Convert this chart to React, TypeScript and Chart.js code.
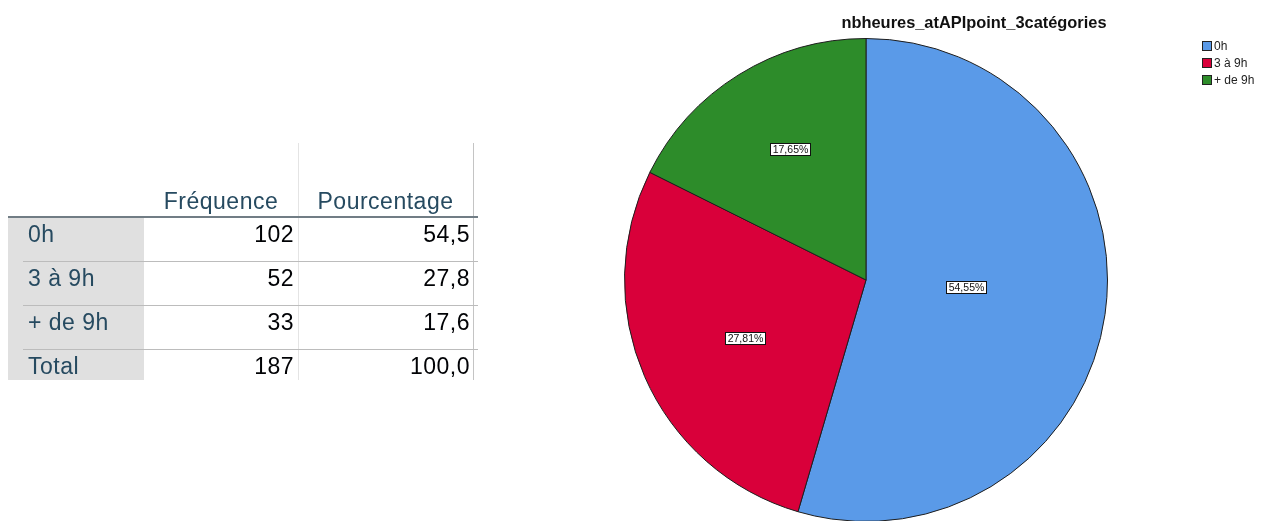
import React, { useEffect, useRef } from "react";
import { Chart, registerables } from "chart.js";

Chart.register(...registerables);

// ---- data ----
const categories = ["0h", "3 à 9h", "+ de 9h"];
const frequencies = [102, 52, 33];
const percentages = ["54,5", "27,8", "17,6"];
const totalLabel = "Total";
const totalFrequency = "187";
const totalPercentage = "100,0";
const tableHeaders = ["Fréquence", "Pourcentage"];
const chartTitle = "nbheures_atAPIpoint_3catégories";
const sliceColors = ["#5a9ae8", "#d9003a", "#2d8c2a"];

const FONT = '"Liberation Sans", Arial, Helvetica, sans-serif';
const LABEL_RADIUS_FRACTION = [0.419, 0.557, 0.624];
const LABEL_ANGLE_SHIFT_DEG = [-4.2, -2.4, 1.5];

const decorPlugin = {
  id: "spssDecor",
  afterDatasetsDraw(chart: any) {
    const ctx = chart.ctx as CanvasRenderingContext2D;
    const meta = chart.getDatasetMeta(0);
    const data = chart.data.datasets[0].data as number[];
    const total = data.reduce((a, b) => a + b, 0);
    ctx.save();
    // slice labels
    meta.data.forEach((arc: any, i: number) => {
      const p = arc.getProps(["x", "y", "startAngle", "endAngle", "outerRadius"], true);
      const mid = (p.startAngle + p.endAngle) / 2 + (LABEL_ANGLE_SHIFT_DEG[i] * Math.PI) / 180;
      const r = p.outerRadius * LABEL_RADIUS_FRACTION[i];
      const cx = p.x + Math.cos(mid) * r;
      const cy = p.y + Math.sin(mid) * r;
      const txt = ((data[i] / total) * 100).toFixed(2).replace(".", ",") + "%";
      ctx.font = `10.5px ${FONT}`;
      const w = Math.round(ctx.measureText(txt).width + 5);
      const h = 13;
      const bx = Math.round(cx - w / 2);
      const by = Math.round(cy - h / 2);
      ctx.fillStyle = "#ffffff";
      ctx.fillRect(bx, by, w, h);
      ctx.strokeStyle = "#111111";
      ctx.lineWidth = 1;
      ctx.strokeRect(bx + 0.5, by + 0.5, w - 1, h - 1);
      ctx.fillStyle = "#111111";
      ctx.textAlign = "center";
      ctx.textBaseline = "middle";
      ctx.fillText(txt, bx + w / 2, by + h / 2 + 0.5);
    });
    // title
    ctx.font = `bold 16.4px ${FONT}`;
    ctx.fillStyle = "#111111";
    ctx.textAlign = "center";
    ctx.textBaseline = "alphabetic";
    ctx.fillText(chartTitle, 974, 28);
    // legend
    ctx.font = `12px ${FONT}`;
    ctx.textAlign = "left";
    ctx.textBaseline = "middle";
    categories.forEach((c, i) => {
      const top = 41 + i * 17;
      ctx.fillStyle = sliceColors[i];
      ctx.fillRect(1202, top, 10, 10);
      ctx.strokeStyle = "#222222";
      ctx.strokeRect(1202.5, top + 0.5, 9, 9);
      ctx.fillStyle = "#222222";
      ctx.fillText(c, 1214, top + 5.5);
    });
    ctx.restore();
  },
};

const labelColor = "#264a60";
const numColor = "#010205";

function Cell(props: {
  left: number;
  width: number;
  top: number;
  text: string;
  align: "left" | "right" | "center";
  color: string;
  pad?: number;
}) {
  const { left, width, top, text, align, color, pad = 0 } = props;
  return (
    <div
      style={{
        position: "absolute",
        left,
        width,
        top,
        height: 30,
        lineHeight: "30px",
        fontFamily: FONT,
        fontSize: 23,
        letterSpacing: "0.5px",
        color,
        textAlign: align,
        paddingLeft: align === "left" ? pad : 0,
        paddingRight: align === "right" ? pad : 0,
        boxSizing: "border-box",
        whiteSpace: "nowrap",
      }}
    >
      {text}
    </div>
  );
}

function FreqTable() {
  const rowTops = [218, 262, 306, 350];
  const rows = categories.map((c, i) => ({
    label: c,
    freq: String(frequencies[i]),
    pct: percentages[i],
  }));
  rows.push({ label: totalLabel, freq: totalFrequency, pct: totalPercentage });
  return (
    <div style={{ position: "absolute", left: 0, top: 0, width: 480, height: 400 }}>
      {/* label column background */}
      <div style={{ position: "absolute", left: 8, top: 218, width: 136, height: 162, background: "#e0e0e0" }} />
      {/* vertical lines */}
      <div style={{ position: "absolute", left: 298, top: 143, width: 1, height: 237, background: "#e4e4e4" }} />
      <div style={{ position: "absolute", left: 473, top: 143, width: 1, height: 237, background: "#c4c4c4" }} />
      {/* header bottom line */}
      <div style={{ position: "absolute", left: 8, top: 216, width: 470, height: 2, background: "#717d85" }} />
      {/* row separators */}
      {[261, 305, 349].map((y) => (
        <div key={y} style={{ position: "absolute", left: 23, top: y, width: 455, height: 1, background: "#bcbcbc" }} />
      ))}
      {/* headers */}
      <Cell left={144} width={154} top={186} text={tableHeaders[0]} align="center" color={labelColor} />
      <Cell left={298} width={175} top={186} text={tableHeaders[1]} align="center" color={labelColor} />
      {rows.map((r, i) => (
        <React.Fragment key={r.label}>
          <Cell left={8} width={136} top={rowTops[i] + 1} text={r.label} align="left" color={labelColor} pad={20} />
          <Cell left={144} width={154} top={rowTops[i] + 1} text={r.freq} align="right" color={numColor} pad={4} />
          <Cell left={298} width={175} top={rowTops[i] + 1} text={r.pct} align="right" color={numColor} pad={3} />
        </React.Fragment>
      ))}
    </div>
  );
}

export default function App() {
  const canvasRef = useRef<HTMLCanvasElement | null>(null);

  useEffect(() => {
    if (!canvasRef.current) return;
    const chart = new Chart(canvasRef.current, {
      type: "pie",
      data: {
        labels: categories,
        datasets: [
          {
            data: frequencies,
            backgroundColor: sliceColors,
            borderColor: "#1e1e1e",
            borderWidth: 1,
          },
        ],
      },
      options: {
        responsive: false,
        animation: false,
        events: [],
        layout: { padding: { left: 624, right: 156, top: 38, bottom: 23 } },
        plugins: {
          legend: { display: false },
          title: { display: false },
          tooltip: { enabled: false },
        },
      },
      plugins: [decorPlugin],
    });
    return () => chart.destroy();
  }, []);

  return (
    <div
      style={{
        position: "fixed",
        left: 0,
        top: 0,
        width: 1264,
        height: 521,
        overflow: "hidden",
        background: "#ffffff",
      }}
    >
      <canvas
        ref={canvasRef}
        width={1264}
        height={545}
        style={{ position: "absolute", left: 0, top: 0, width: 1264, height: 545 }}
      />
      <FreqTable />
    </div>
  );
}
